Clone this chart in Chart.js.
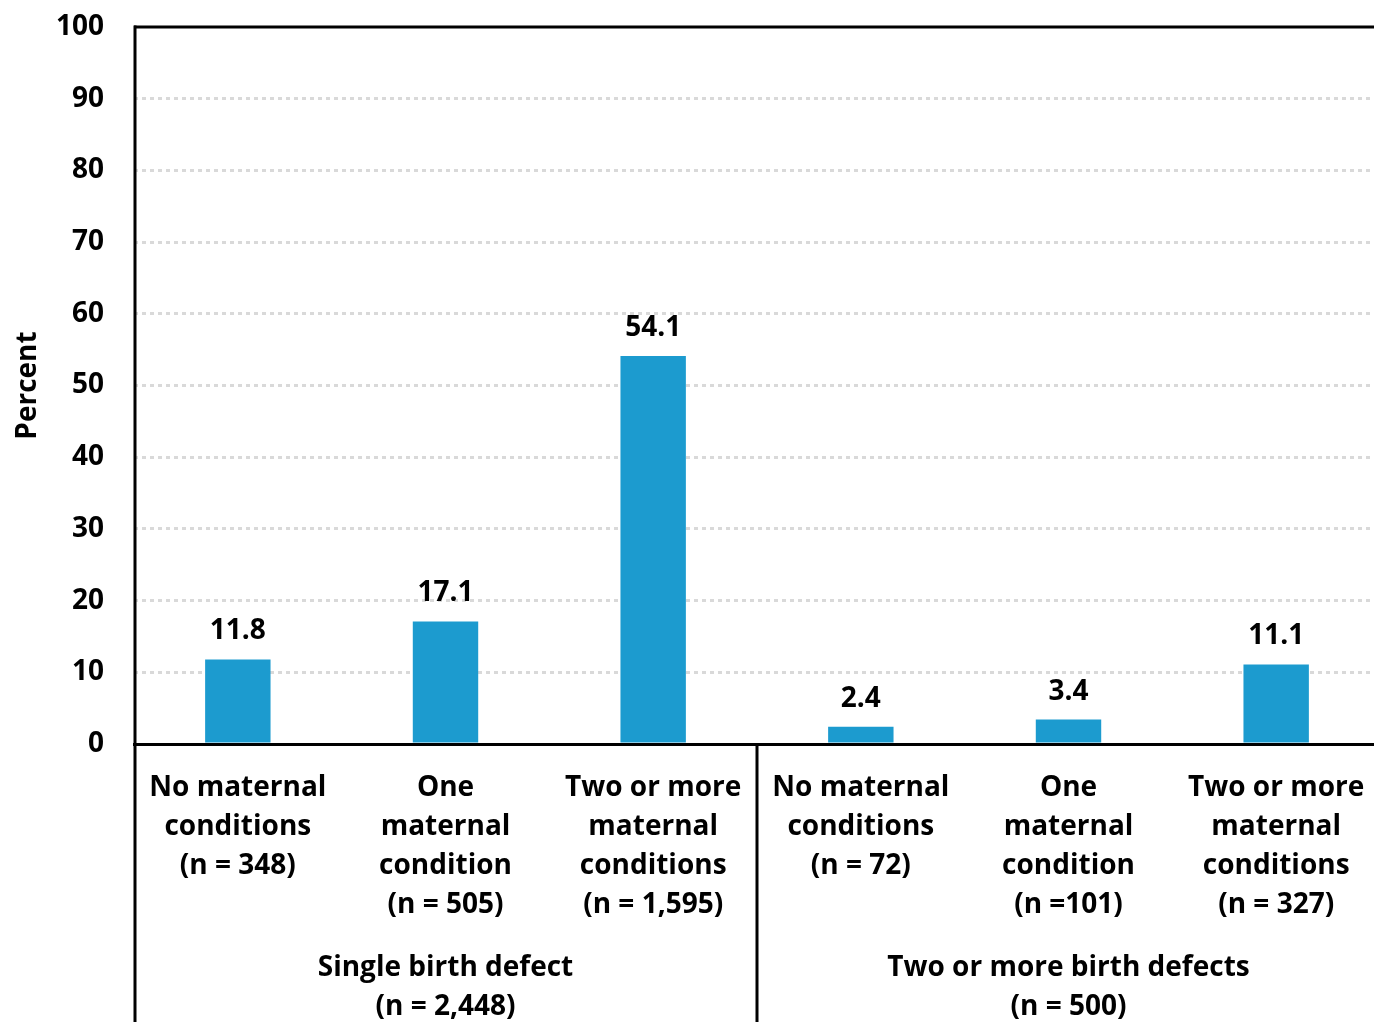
<!DOCTYPE html>
<html>
<head>
<meta charset="utf-8">
<script src="https://cdn.jsdelivr.net/npm/chart.js@4/dist/chart.umd.min.js"></script>
<style>
  html, body { margin: 0; padding: 0; background: #fff; overflow: hidden; }
  #wrap { width: 1374px; height: 1022px; overflow: hidden; position: relative; }
  #chart { position: absolute; left: 0; top: 0; }
</style>
</head>
<body>
<div id="wrap"><canvas id="chart" width="1380" height="1022"></canvas></div>
<script>
// Category labels (one per bar), split into lines
const categories = [
  ['No maternal', 'conditions', '(n = 348)'],
  ['One', 'maternal', 'condition', '(n = 505)'],
  ['Two or more', 'maternal', 'conditions', '(n = 1,595)'],
  ['No maternal', 'conditions', '(n = 72)'],
  ['One', 'maternal', 'condition', '(n =101)'],
  ['Two or more', 'maternal', 'conditions', '(n = 327)']
];

// Percent of cases in each group
const percentValues = [11.8, 17.1, 54.1, 2.4, 3.4, 11.1];

// Outer grouping of the categories
const groupLabels = [
  ['Single birth defect', '(n = 2,448)'],
  ['Two or more birth defects', '(n = 500)']
];
const groupRanges = [[0, 2], [3, 5]];

// Y axis ticks
const yTicks = [0, 10, 20, 30, 40, 50, 60, 70, 80, 90, 100];

const FONT = '"Open Sans", "DejaVu Sans", sans-serif';
const BAR_COLOR = '#1c9bcf';

// Draws frame lines, group separators, group labels and value labels
const decorations = {
  id: 'decorations',
  afterDraw(chart) {
    const { ctx, chartArea, scales } = chart;
    const x = scales.x, y = scales.y;
    const H = chart.height;
    const topY = y.getPixelForValue(100);
    ctx.save();
    ctx.strokeStyle = '#000';
    ctx.lineWidth = 3;
    ctx.setLineDash([]);
    // top frame line
    ctx.beginPath();
    ctx.moveTo(chartArea.left, topY);
    ctx.lineTo(chartArea.right, topY);
    ctx.stroke();
    // left axis line, running down through the label area
    ctx.beginPath();
    ctx.moveTo(chartArea.left + 1, topY - 1.5);
    ctx.lineTo(chartArea.left + 1, H);
    ctx.stroke();
    // separators between groups
    for (let g = 0; g < groupRanges.length - 1; g++) {
      const sx = x.getPixelForValue(groupRanges[g][1] + 0.5);
      ctx.beginPath();
      ctx.moveTo(sx, chartArea.bottom);
      ctx.lineTo(sx, H);
      ctx.stroke();
    }
    // group labels
    ctx.fillStyle = '#000';
    ctx.font = 'bold 28px ' + FONT;
    ctx.textAlign = 'center';
    ctx.textBaseline = 'middle';
    groupRanges.forEach((r, g) => {
      const cx = (x.getPixelForValue(r[0] - 0.5) + x.getPixelForValue(r[1] + 0.5)) / 2;
      groupLabels[g].forEach((line, i) => {
        ctx.fillText(line, cx, chartArea.bottom + 224 + i * 39);
      });
    });
    // value labels above the bars
    const meta = chart.getDatasetMeta(0);
    meta.data.forEach((bar, i) => {
      ctx.fillText(percentValues[i].toFixed(1), bar.x, bar.y - 28);
    });
    ctx.restore();
  }
};

new Chart(document.getElementById('chart'), {
  type: 'bar',
  data: {
    labels: categories,
    datasets: [{
      data: percentValues,
      backgroundColor: BAR_COLOR,
      borderWidth: 0,
      barPercentage: 0.315,
      categoryPercentage: 1.0
    }]
  },
  options: {
    responsive: false,
    animation: false,
    layout: { padding: { top: 27, left: 0, right: 0, bottom: 0 } },
    plugins: {
      legend: { display: false },
      tooltip: { enabled: false }
    },
    scales: {
      x: {
        grid: { display: false, drawTicks: false },
        border: { display: true, color: '#000', width: 3 },
        ticks: {
          color: '#000',
          font: { family: FONT, size: 28, weight: 'bold', lineHeight: 1.39 },
          padding: 25,
          maxRotation: 0,
          autoSkip: false
        },
        afterFit(scale) {
          scale.height = 278;
          scale.paddingLeft = 0;
          scale.paddingRight = 0;
        }
      },
      y: {
        min: 0,
        max: 100,
        afterBuildTicks(scale) { scale.ticks = yTicks.map(v => ({ value: v })); },
        grid: {
          drawTicks: false,
          lineWidth: 3,
          color: c => (c.tick && (c.tick.value === 0 || c.tick.value === 100)) ? 'rgba(0,0,0,0)' : '#d9d9d9'
        },
        border: { display: false, dash: [4, 4] },
        ticks: {
          color: '#000',
          font: { family: FONT, size: 28, weight: 'bold' },
          padding: 30
        },
        title: {
          display: true,
          text: 'Percent',
          color: '#000',
          font: { family: FONT, size: 28, weight: 'bold' },
          padding: { top: 11, bottom: 0 }
        },
        afterFit(scale) {
          scale.width = 134;
          scale.paddingTop = 0;
          scale.paddingBottom = 0;
        }
      }
    }
  },
  plugins: [decorations]
});
</script>
</body>
</html>
